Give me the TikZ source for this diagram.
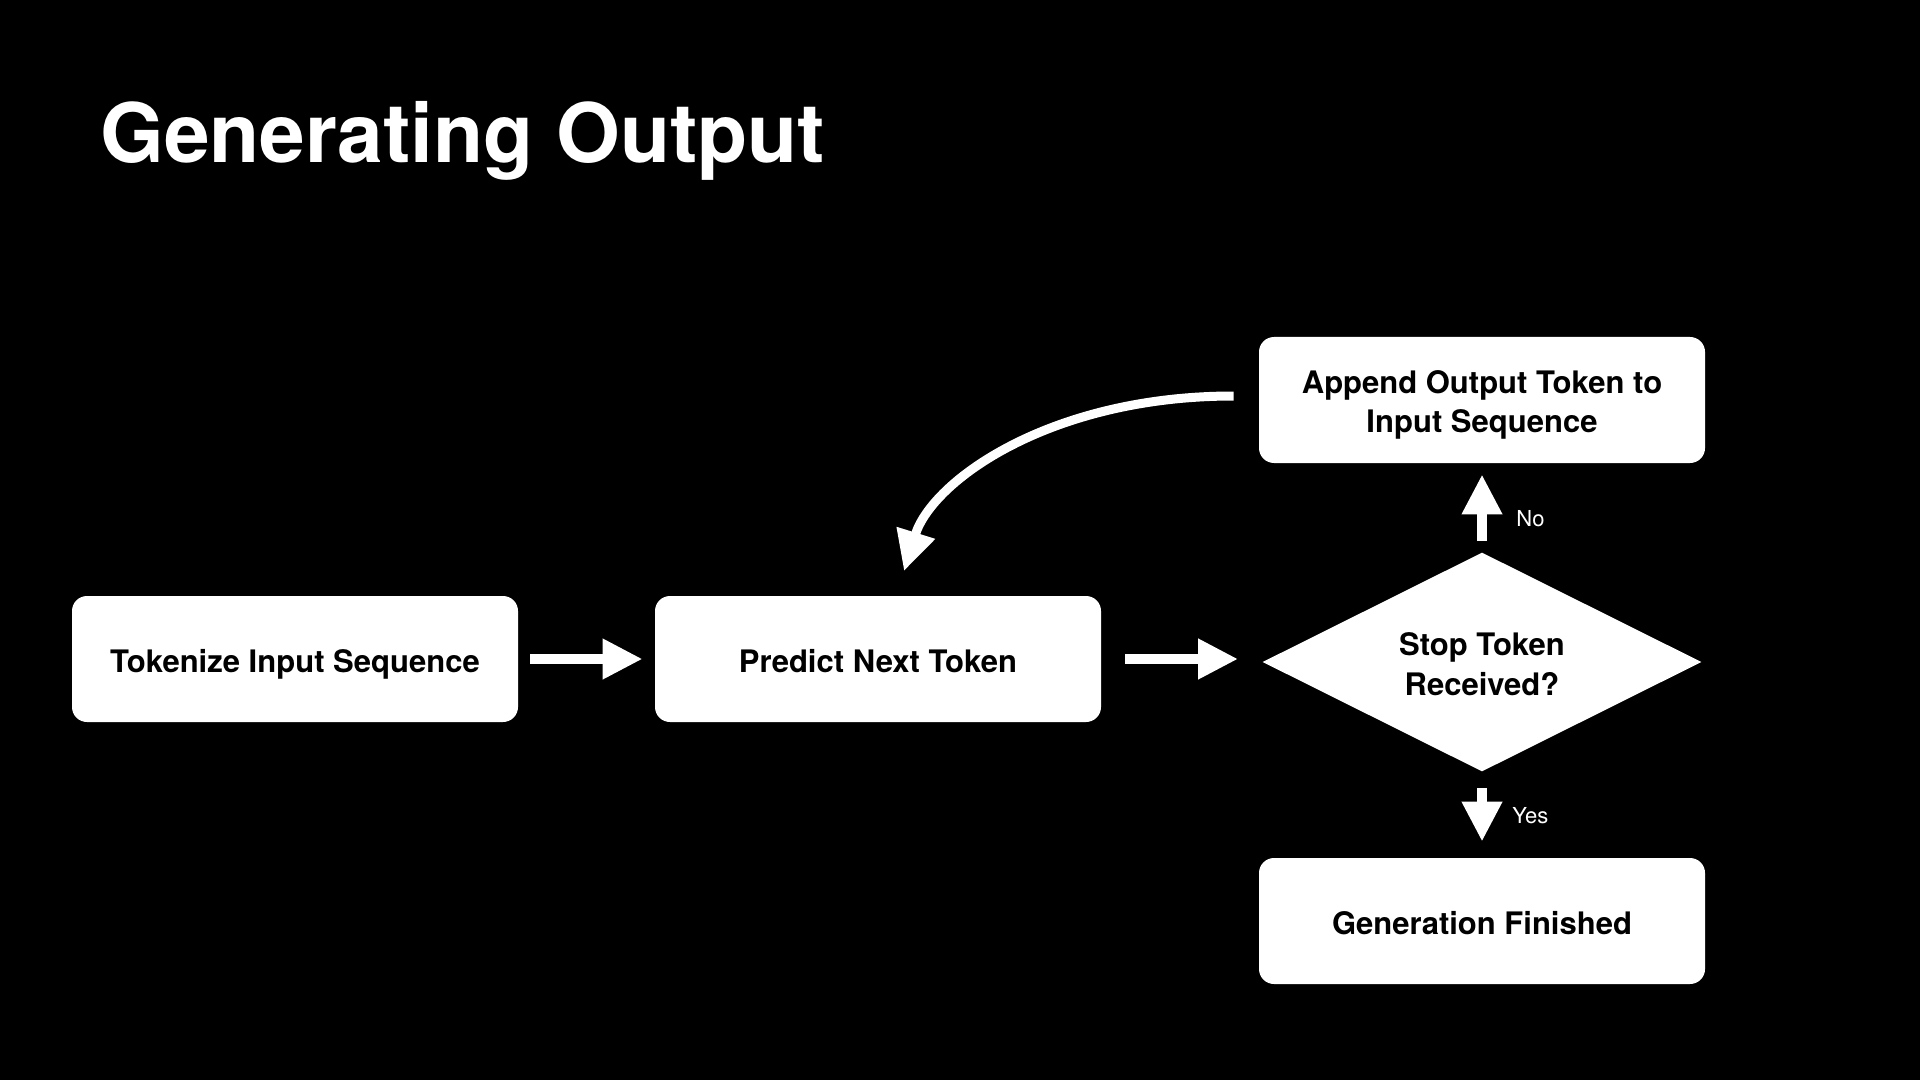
\documentclass[tikz,border=0pt]{standalone}
\usepackage{fontspec}
\setmainfont{TeX Gyre Heros}
\usetikzlibrary{arrows.meta,shapes.geometric,calc}
\begin{document}
\begin{tikzpicture}[x=0.5pt,y=-0.5pt,
  box/.style={rectangle, rounded corners=7.5pt, fill=white, minimum width=223pt, minimum height=63pt, inner sep=0pt, align=center, text=black, font=\bfseries\fontsize{15.5}{19.6}\selectfont},
  onebox/.style={box, text height=13.6pt, text depth=0pt},
  decision/.style={diamond, fill=white, minimum width=219.5pt, minimum height=109.5pt, inner sep=0pt, aspect=2, align=center, text=black, text height=33.2pt, font=\bfseries\fontsize{15.5}{19.6}\selectfont},
  flow/.style={draw=white, line width=5pt, -{Triangle[length=20pt,width=19pt]}},
  lbl/.style={text=white, inner sep=0pt, anchor=west, font=\fontsize{11}{13}\selectfont},
  titletext/.style={text=white, inner sep=0pt, anchor=base west, font=\bfseries\fontsize{41}{49}\selectfont}
]
\fill[black] (0,0) rectangle (1920,1080);
\useasboundingbox (0,0) rectangle (1920,1080);

\node[titletext] (title) at (100,163) {Generating Output};

\node[onebox] (b1) at (295,659) {Tokenize Input Sequence};
\node[onebox] (b2) at (878,659) {Predict Next Token};
\node[box, text height=35.8pt] (b3) at (1482,400) {Append Output Token to\\Input Sequence};
\node[decision] (d) at (1482,662) {Stop Token\\Received?};
\node[onebox] (b4) at (1482,921) {Generation Finished};

\coordinate (loopstart) at ([shift={(-25,-4)}]b3.west);
\coordinate (loopend) at (904,571);

\draw[flow, shorten <=6pt, shorten >=6pt] (b1.east) -- (b2.west);
\draw[flow, shorten <=12pt, shorten >=12pt] (b2.east) -- (b2.east -| d.west);
\draw[flow, shorten <=5.5pt, shorten >=5.5pt] (d.north) -- (b3.south);
\draw[flow, shorten <=8pt, shorten >=8pt] (d.south) -- (b4.north);
\draw[flow, line width=4.5pt] (loopstart) .. controls +(-184,0) and +(28,-90) .. (loopend);

\node[lbl] (no) at (1516,519) {No};
\node[lbl] (yes) at (1512,816) {Yes};
\end{tikzpicture}
\end{document}
